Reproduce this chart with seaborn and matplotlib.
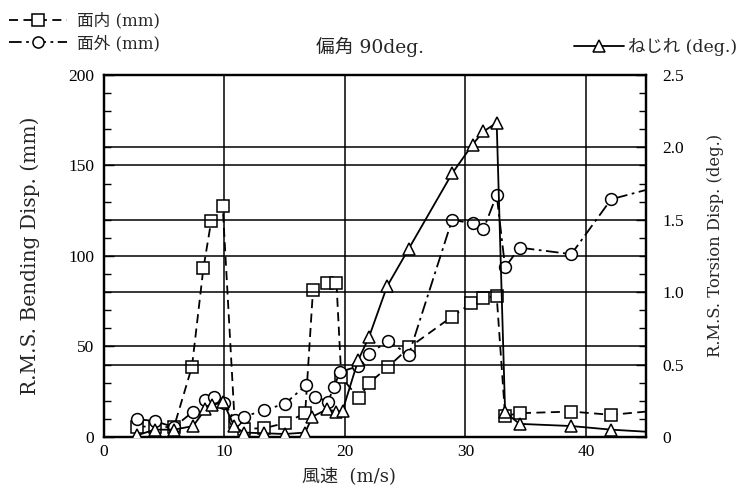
import numpy as np
import pandas as pd
import matplotlib
matplotlib.use("Agg")
import matplotlib.pyplot as plt
from matplotlib.lines import Line2D
from matplotlib.ticker import MultipleLocator, FuncFormatter
import seaborn as sns

# ---- data ----
# 面内 (mm)  in-plane bending
x_in = [2.7, 4.2, 5.8, 7.3, 8.25, 8.9, 9.85, 10.85, 11.6, 13.3, 15.0, 16.7, 17.35, 18.5, 19.3,
        19.7, 21.15, 22.0, 23.6, 25.35, 28.9, 30.5, 31.5, 32.6, 33.3, 34.5, 38.8, 42.1, 46.0]
y_in = [5.7, 5.7, 5.3, 38.8, 93.2, 119.3, 127.8, 8.0, 4.5, 4.8, 7.6, 13.1, 81.2, 84.9, 84.9,
        33.0, 21.4, 29.7, 38.8, 49.5, 66.5, 73.9, 76.6, 77.9, 11.6, 13.1, 14.0, 12.2, 14.6]

# 面外 (mm)  out-of-plane bending
x_out = [2.7, 4.2, 5.8, 7.4, 8.4, 9.1, 10.0, 10.85, 11.6, 13.3, 15.0, 16.8, 17.5, 18.6, 19.1,
         19.6, 21.1, 22.0, 23.6, 25.3, 28.9, 30.6, 31.5, 32.6, 33.3, 34.5, 38.8, 42.1, 46.0]
y_out = [9.8, 8.8, 5.4, 14.0, 20.4, 22.3, 18.6, 9.4, 11.0, 14.9, 18.2, 28.7, 22.3, 19.5, 27.8,
         36.0, 39.0, 46.0, 53.0, 45.3, 120.0, 118.0, 114.7, 133.7, 93.7, 104.6, 101.0, 131.3, 138.3]

# ねじれ (deg.)  torsion
x_tor = [2.7, 4.2, 5.8, 7.4, 8.4, 9.0, 9.9, 10.8, 11.6, 13.3, 15.0, 16.7, 17.3, 18.5, 19.3,
         19.8, 21.1, 22.0, 23.5, 25.3, 28.9, 30.6, 31.5, 32.6, 33.3, 34.5, 38.8, 42.1, 46.0]
y_tor = [0.01, 0.05, 0.05, 0.075, 0.19, 0.22, 0.24, 0.075, 0.03, 0.025, 0.02, 0.03, 0.14, 0.19, 0.175,
         0.18, 0.53, 0.69, 1.04, 1.30, 1.82, 2.02, 2.11, 2.17, 0.17, 0.09, 0.075, 0.05, 0.031]

x_ticks = [0, 10, 20, 30, 40]
yl_ticks = [0, 50, 100, 150, 200]
yr_ticks = [0, 0.5, 1.0, 1.5, 2.0, 2.5]

label_in = "面内 (mm)"
label_out = "面外 (mm)"
label_tor = "ねじれ (deg.)"
title = "偏角 90deg."
xlabel = "風速  (m/s)"
ylabel_l = "R.M.S. Bending Disp. (mm)"
ylabel_r = "R.M.S. Torsion Disp. (deg.)"

# ---- style ----
sns.set_theme(style="white")
fam_tick = ["Liberation Serif", "Noto Sans CJK JP", "DejaVu Serif"]
fam_text = ["DejaVu Serif", "Noto Sans CJK JP"]
plt.rcParams["font.family"] = fam_tick
plt.rcParams["axes.unicode_minus"] = False

fig = plt.figure(figsize=(7.43, 4.92), dpi=100)
ax = fig.add_axes([0.140, 0.112, 0.7295, 0.7355])
ax2 = ax.twinx()

df_in = pd.DataFrame({"x": x_in, "y": y_in})
df_out = pd.DataFrame({"x": x_out, "y": y_out})
df_tor = pd.DataFrame({"x": x_tor, "y": y_tor})

mk = dict(markerfacecolor="white", markeredgecolor="black", markeredgewidth=1.1)
ls_in = (0, (5, 3))
ls_out = (0, (7, 2.5, 1.5, 2.5))

sns.lineplot(data=df_in, x="x", y="y", ax=ax, sort=False, estimator=None, color="black",
             linestyle=ls_in, linewidth=1.3, marker="s", markersize=8.5, zorder=4, **mk)
sns.lineplot(data=df_out, x="x", y="y", ax=ax, sort=False, estimator=None, color="black",
             linestyle=ls_out, linewidth=1.3, marker="o", markersize=8.5, zorder=4, **mk)
sns.lineplot(data=df_tor, x="x", y="y", ax=ax2, sort=False, estimator=None, color="black",
             linestyle="-", linewidth=1.3, marker="^", markersize=9, zorder=4, **mk)

ax.set_xlim(0, 45)
ax.set_ylim(0, 200)
ax2.set_ylim(0, 2.5)

ax.set_xticks(x_ticks)
ax.set_yticks(yl_ticks)
ax2.set_yticks(yr_ticks)
ax2.yaxis.set_major_formatter(FuncFormatter(lambda v, p: "0" if v == 0 else f"{v:.1f}"))
ax.xaxis.set_minor_locator(MultipleLocator(2))
ax.yaxis.set_minor_locator(MultipleLocator(10))
ax2.yaxis.set_minor_locator(MultipleLocator(0.125))

# grids: verticals from x, horizontals from both y axes
for v in x_ticks[1:]:
    ax.axvline(v, color="black", linewidth=1.1, zorder=1)
for v in yl_ticks[1:-1]:
    ax.axhline(v, color="black", linewidth=1.1, zorder=1)
for v in yr_ticks[1:-1]:
    ax2.axhline(v, color="black", linewidth=1.1, zorder=1)

for a in (ax, ax2):
    for s in a.spines.values():
        s.set_linewidth(1.6)
        s.set_color("black")

ax.tick_params(axis="both", which="both", direction="in", colors="black", labelsize=12.5)
ax.tick_params(axis="x", which="major", length=0, pad=5)
ax.tick_params(axis="x", which="minor", length=6, width=1)
ax.tick_params(axis="y", which="major", length=7, width=1, pad=7)
ax.tick_params(axis="y", which="minor", length=5, width=1)
ax2.tick_params(axis="y", which="both", direction="in", colors="black", labelsize=12.5)
ax2.tick_params(axis="y", which="major", length=7, width=1, pad=12)
ax2.tick_params(axis="y", which="minor", length=5, width=1)

ax.set_xlabel("")
ax.set_ylabel(ylabel_l, fontsize=14.5, family=fam_text)
ax.yaxis.set_label_coords(-0.118, 0.5)
ax2.set_ylabel(ylabel_r, fontsize=11.8, family=fam_text)
ax2.yaxis.set_label_coords(1.112, 0.53)

fig.text(0.470, 0.022, xlabel, fontsize=13, ha="center", va="baseline", family=fam_text)
fig.text(0.498, 0.905, title, fontsize=13.5, ha="center", va="center", family=fam_text)

h_in = Line2D([], [], color="black", linestyle=ls_in, linewidth=1.3, marker="s", markersize=8, **mk)
h_out = Line2D([], [], color="black", linestyle=ls_out, linewidth=1.3, marker="o", markersize=8, **mk)
h_tor = Line2D([], [], color="black", linestyle="-", linewidth=1.3, marker="^", markersize=8, **mk)

leg1 = fig.legend([h_in, h_out], [label_in, label_out], loc="upper left",
                  bbox_to_anchor=(-0.005, 1.0), frameon=False, numpoints=1,
                  prop={"family": fam_text, "size": 12},
                  handlelength=3.5, handletextpad=0.6, labelspacing=0.35, borderpad=0.25)
leg2 = fig.legend([h_tor], [label_tor], loc="upper right",
                  bbox_to_anchor=(1.008, 0.948), frameon=False, numpoints=1,
                  prop={"family": fam_text, "size": 12.5},
                  handlelength=2.9, handletextpad=0.2, borderpad=0.2)

fig.savefig("out.png", dpi=100)
